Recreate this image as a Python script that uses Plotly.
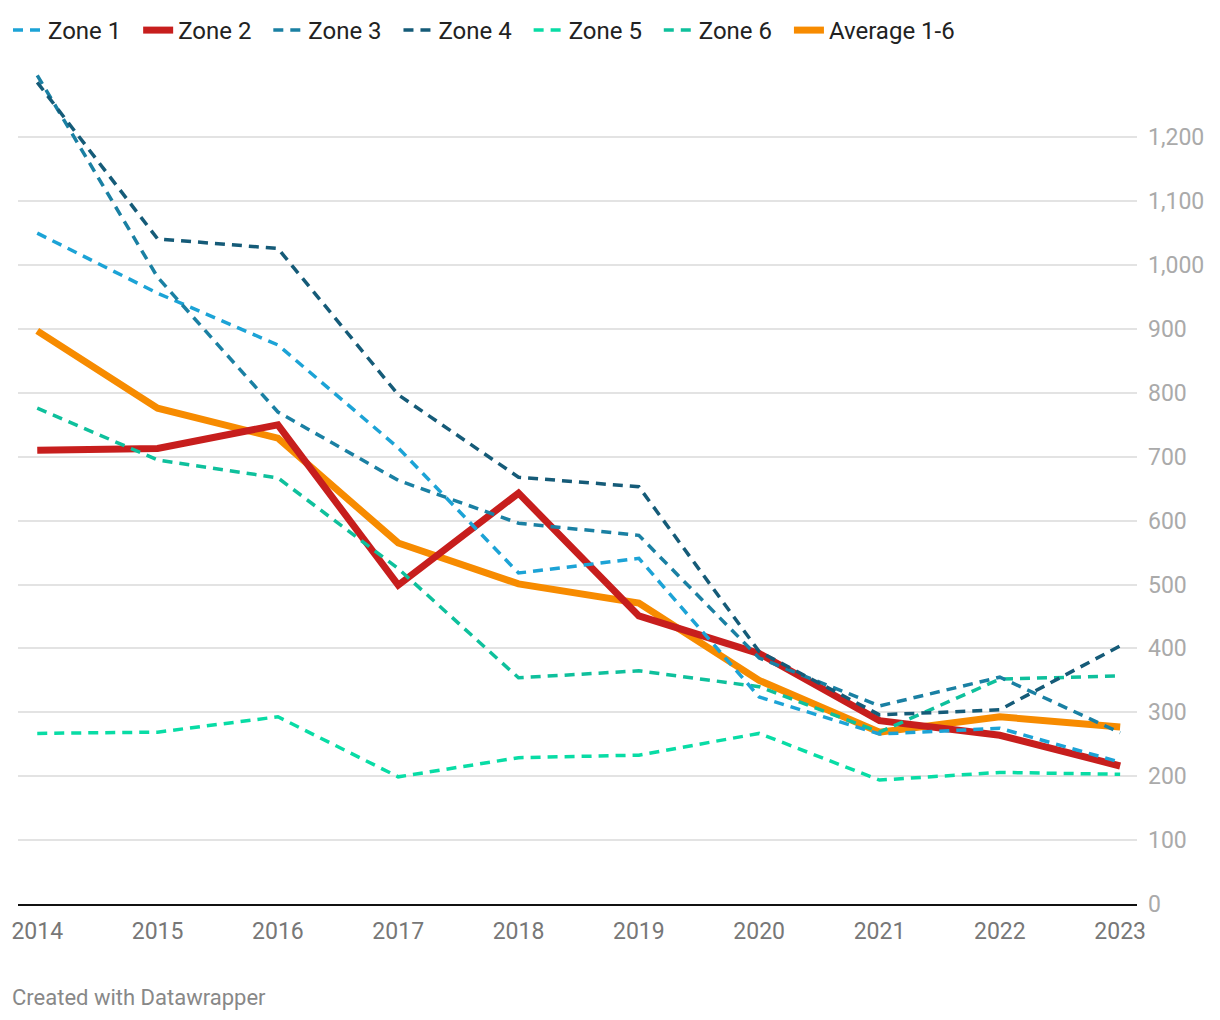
import plotly.graph_objects as go

years = [2014, 2015, 2016, 2017, 2018, 2019, 2020, 2021, 2022, 2023]
zone1 = [1050, 956, 875, 714, 518, 541, 324, 266, 275, 222]
zone2 = [710, 713, 750, 499, 643, 451, 392, 287, 264, 216]
zone3 = [1297, 981, 770, 663, 596, 577, 385, 310, 355, 268]
zone4 = [1286, 1041, 1026, 797, 668, 653, 395, 296, 304, 404]
zone5 = [267, 269, 293, 199, 229, 233, 267, 194, 206, 203]
zone6 = [776, 695, 667, 525, 354, 365, 340, 269, 352, 357]
average = [897, 776, 729, 565, 501, 471, 350, 269, 293, 277]
y_ticks = [0, 100, 200, 300, 400, 500, 600, 700, 800, 900, 1000, 1100, 1200]

series = [
    # name, values, color, dashed, width, legendrank
    ("Average 1-6", average, "#f78b00", False, 7, 7),
    ("Zone 2", zone2, "#c71e1d", False, 7, 2),
    ("Zone 5", zone5, "#08dca5", True, 3.5, 5),
    ("Zone 6", zone6, "#0ec09c", True, 3.5, 6),
    ("Zone 1", zone1, "#1ca3d6", True, 3.5, 1),
    ("Zone 3", zone3, "#1a80a3", True, 3.5, 3),
    ("Zone 4", zone4, "#155b78", True, 3.5, 4),
]

fig = go.Figure()
for name, vals, color, dashed, width, rank in series:
    label = name if rank == 7 else name + "\u00a0\u00a0"
    fig.add_trace(go.Scatter(
        x=years, y=vals, name=label, mode="lines",
        line=dict(color=color, width=width, dash="10px,7px" if dashed else "solid"),
        legendrank=rank, hoverinfo="skip",
    ))

L, T, R, B = 10, 59, 1129, 896
W, H = 1220, 1020
fig.update_layout(
    width=W, height=H,
    margin=dict(l=L, r=W - R, t=T, b=H - B, autoexpand=False),
    paper_bgcolor="white", plot_bgcolor="white",
    font=dict(family="Roboto", size=23, color="#222"),
    showlegend=True,
    legend=dict(orientation="h", x=0, xref="container", y=1, yref="container",
                xanchor="left", yanchor="top", font=dict(size=24, color="#222"),
                itemwidth=30, tracegroupgap=0, traceorder="normal",
                bgcolor="rgba(0,0,0,0)"),
    xaxis=dict(range=[2013.84, 2023.14], tickmode="array", tickvals=years,
               ticktext=[str(y) for y in years], showgrid=False, zeroline=False,
               showline=True, linecolor="#111", linewidth=2, automargin=False,
               tickfont=dict(size=23, color="#777"), ticks="", ticklabelstandoff=5),
    yaxis=dict(range=[0, 1310], side="right", tickmode="array", tickvals=y_ticks,
               ticktext=[f"{v:,}" for v in y_ticks], showgrid=True, automargin=False,
               gridcolor="#e3e3e3", gridwidth=1.5, zeroline=False, showline=False,
               tickfont=dict(size=23, color="#aaa"), ticks="", ticklabelstandoff=10),
    annotations=[dict(
        text="Created with Datawrapper", xref="paper", yref="paper",
        x=(2 - L) / (R - L), y=-(989 - B) / (B - T), xanchor="left", yanchor="middle",
        showarrow=False, font=dict(size=22, color="#888"))],
)

fig.write_html("out.html")
